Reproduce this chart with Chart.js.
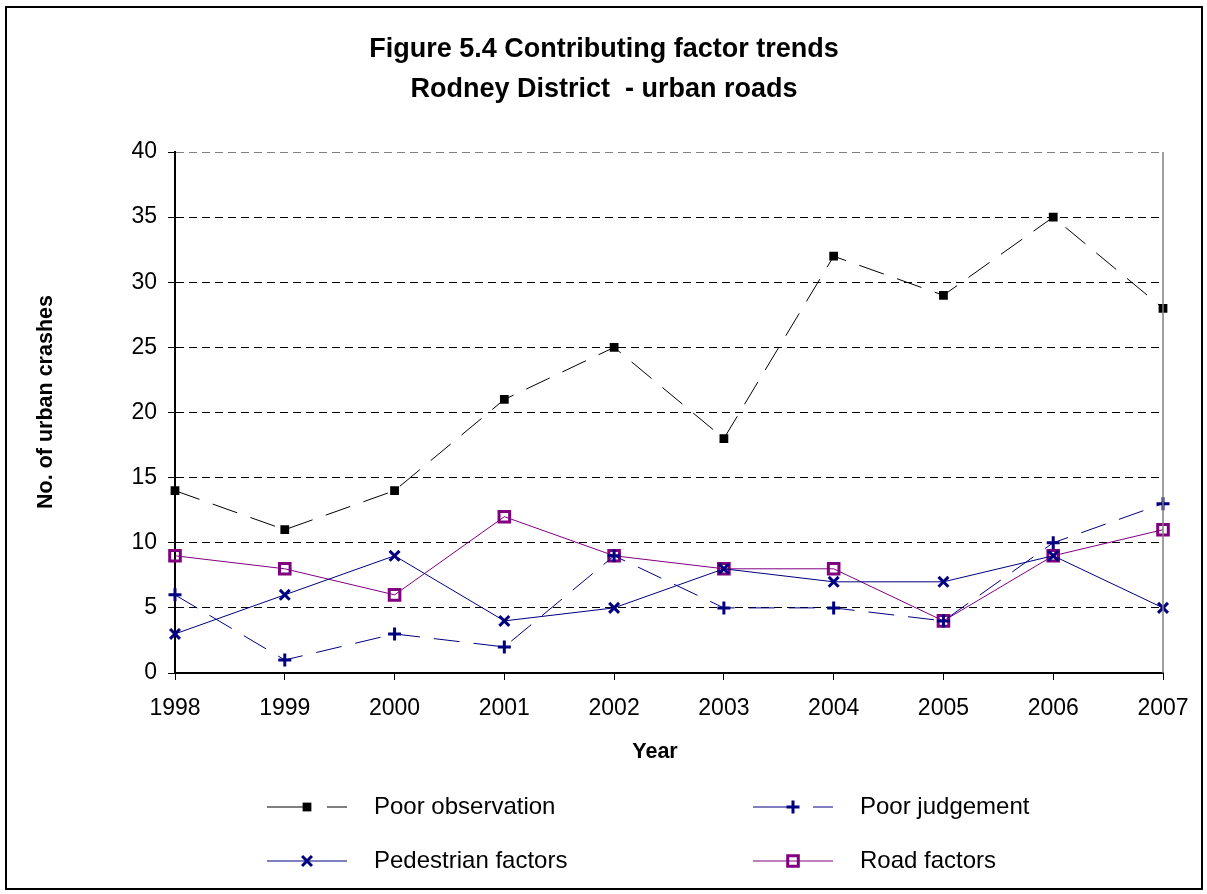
<!DOCTYPE html>
<html>
<head>
<meta charset="utf-8">
<script src="https://cdn.jsdelivr.net/npm/chart.js@4"></script>
<style>
  html, body { margin: 0; padding: 0; background: #fff; }
  #wrap { width: 1207px; height: 894px; }
</style>
</head>
<body>
<div id="wrap"><canvas id="trendChart" width="1207" height="894"></canvas></div>
<script>
// Values
const years = ["1998", "1999", "2000", "2001", "2002", "2003", "2004", "2005", "2006", "2007"];
const poorObservation = [14, 11, 14, 21, 25, 18, 32, 29, 35, 28];
const poorJudgement = [6, 1, 3, 2, 9, 5, 5, 4, 10, 13];
const pedestrianFactors = [3, 6, 9, 4, 5, 8, 7, 7, 9, 5];
const roadFactors = [9, 8, 6, 12, 9, 8, 8, 4, 9, 11];
const yTicks = [0, 5, 10, 15, 20, 25, 30, 35, 40];

const FONT = "'Liberation Sans', Arial, sans-serif";

// Frame, plot-area right edge, titles and legend
const decorations = {
    id: "decorations",
    beforeDraw(chart) {
        const ctx = chart.ctx;
        ctx.save();
        ctx.fillStyle = "#fff";
        ctx.fillRect(0, 0, chart.width, chart.height);
        ctx.restore();
    },
    afterDraw(chart) {
        const ctx = chart.ctx;
        const area = chart.chartArea;
        ctx.save();

        // outer frame
        ctx.strokeStyle = "#000";
        ctx.lineWidth = 2;
        ctx.strokeRect(6, 7, 1196, 882);

        // right edge of plot area
        ctx.strokeStyle = "#808080";
        ctx.lineWidth = 1.5;
        ctx.beginPath();
        ctx.moveTo(area.right, area.top);
        ctx.lineTo(area.right, area.bottom);
        ctx.stroke();

        // main title
        ctx.fillStyle = "#000";
        ctx.font = "bold 27px " + FONT;
        ctx.textAlign = "center";
        ctx.textBaseline = "middle";
        ctx.fillText("Figure 5.4 Contributing factor trends", 604, 50);
        ctx.fillText("Rodney District  - urban roads", 604, 90);

        // axis titles
        ctx.font = "bold 21.5px " + FONT;
        ctx.fillText("Year", 655, 752);
        ctx.save();
        ctx.translate(46, 402);
        ctx.rotate(-Math.PI / 2);
        ctx.fillText("No. of urban crashes", 0, 0);
        ctx.restore();

        // legend
        const cols = [267, 753];
        const rows = [807, 861];
        chart.data.datasets.forEach((ds, i) => {
            const x0 = cols[i % 2];
            const y = rows[Math.floor(i / 2)];
            ctx.strokeStyle = ds.borderColor;
            ctx.lineWidth = 1;
            ctx.setLineDash(ds.borderDash ? [41, 19] : []);
            ctx.beginPath();
            ctx.moveTo(x0, y);
            ctx.lineTo(x0 + 80, y);
            ctx.stroke();
            ctx.setLineDash([]);
            ctx.fillStyle = ds.pointBackgroundColor || ds.borderColor;
            ctx.strokeStyle = ds.pointBorderColor || ds.borderColor;
            ctx.lineWidth = ds.pointBorderWidth;
            Chart.helpers.drawPoint(ctx, {
                pointStyle: ds.pointStyle,
                radius: ds.pointRadius,
                borderWidth: ds.pointBorderWidth,
                rotation: 0
            }, x0 + 40, y);
            ctx.fillStyle = "#000";
            ctx.font = "24px " + FONT;
            ctx.textAlign = "left";
            ctx.textBaseline = "middle";
            ctx.fillText(ds.label, x0 + 107, y);
        });
        ctx.restore();
    }
};

const chart = new Chart(document.getElementById("trendChart").getContext("2d"), {
    type: "line",
    data: {
        labels: years,
        datasets: [
            {
                label: "Poor observation",
                data: poorObservation,
                borderColor: "#000000",
                backgroundColor: "#000000",
                borderWidth: 1,
                borderDash: [26, 14],
                pointStyle: "rect",
                pointRadius: 6.2,
                pointBorderWidth: 0,
                pointBackgroundColor: "#000000",
                pointBorderColor: "#000000",
                tension: 0
            },
            {
                label: "Poor judgement",
                data: poorJudgement,
                borderColor: "#000080",
                backgroundColor: "#000080",
                borderWidth: 1,
                borderDash: [26, 14],
                pointStyle: "cross",
                pointRadius: 6.5,
                pointBorderWidth: 3,
                pointBorderColor: "#000080",
                tension: 0
            },
            {
                label: "Pedestrian factors",
                data: pedestrianFactors,
                borderColor: "#000080",
                backgroundColor: "#000080",
                borderWidth: 1,
                pointStyle: "crossRot",
                pointRadius: 7,
                pointBorderWidth: 3,
                pointBorderColor: "#000080",
                tension: 0
            },
            {
                label: "Road factors",
                data: roadFactors,
                borderColor: "#800080",
                backgroundColor: "rgba(0,0,0,0)",
                borderWidth: 1,
                pointStyle: "rect",
                pointRadius: 7.5,
                pointBorderWidth: 3,
                pointBorderColor: "#800080",
                pointBackgroundColor: "rgba(0,0,0,0)",
                tension: 0
            }
        ]
    },
    options: {
        responsive: false,
        animation: false,
        devicePixelRatio: 1,
        layout: {
            padding: { left: 0, right: 44, top: 152, bottom: 121 }
        },
        plugins: {
            legend: { display: false },
            title: { display: false },
            tooltip: { enabled: false }
        },
        scales: {
            x: {
                type: "category",
                offset: false,
                afterFit: (scale) => { scale.height = 100; },
                grid: {
                    display: true,
                    drawOnChartArea: false,
                    drawTicks: true,
                    tickLength: 7,
                    tickColor: "#000",
                    tickWidth: 1
                },
                border: { display: true, color: "#000", width: 2 },
                ticks: {
                    color: "#000",
                    font: { family: FONT, size: 23 },
                    padding: 15,
                    maxRotation: 0,
                    autoSkip: false
                }
            },
            y: {
                min: 0,
                max: 40,
                afterFit: (scale) => { scale.width = 175; },
                afterBuildTicks: (scale) => {
                    scale.ticks = yTicks.map((v) => ({ value: v }));
                },
                grid: {
                    color: (c) => {
                        if (!c.tick) return "#000";
                        if (c.tick.value === 0) return "rgba(0,0,0,0)";
                        if (c.tick.value === 40) return "#808080";
                        return "#000";
                    },
                    lineWidth: 1,
                    drawTicks: true,
                    tickLength: 7,
                    tickColor: "#000",
                    tickBorderDash: []
                },
                border: { display: true, color: "#000", width: 2, dash: [8, 5] },
                ticks: {
                    color: "#000",
                    font: { family: FONT, size: 23 },
                    padding: 11
                }
            }
        }
    },
    plugins: [decorations]
});
</script>
</body>
</html>
